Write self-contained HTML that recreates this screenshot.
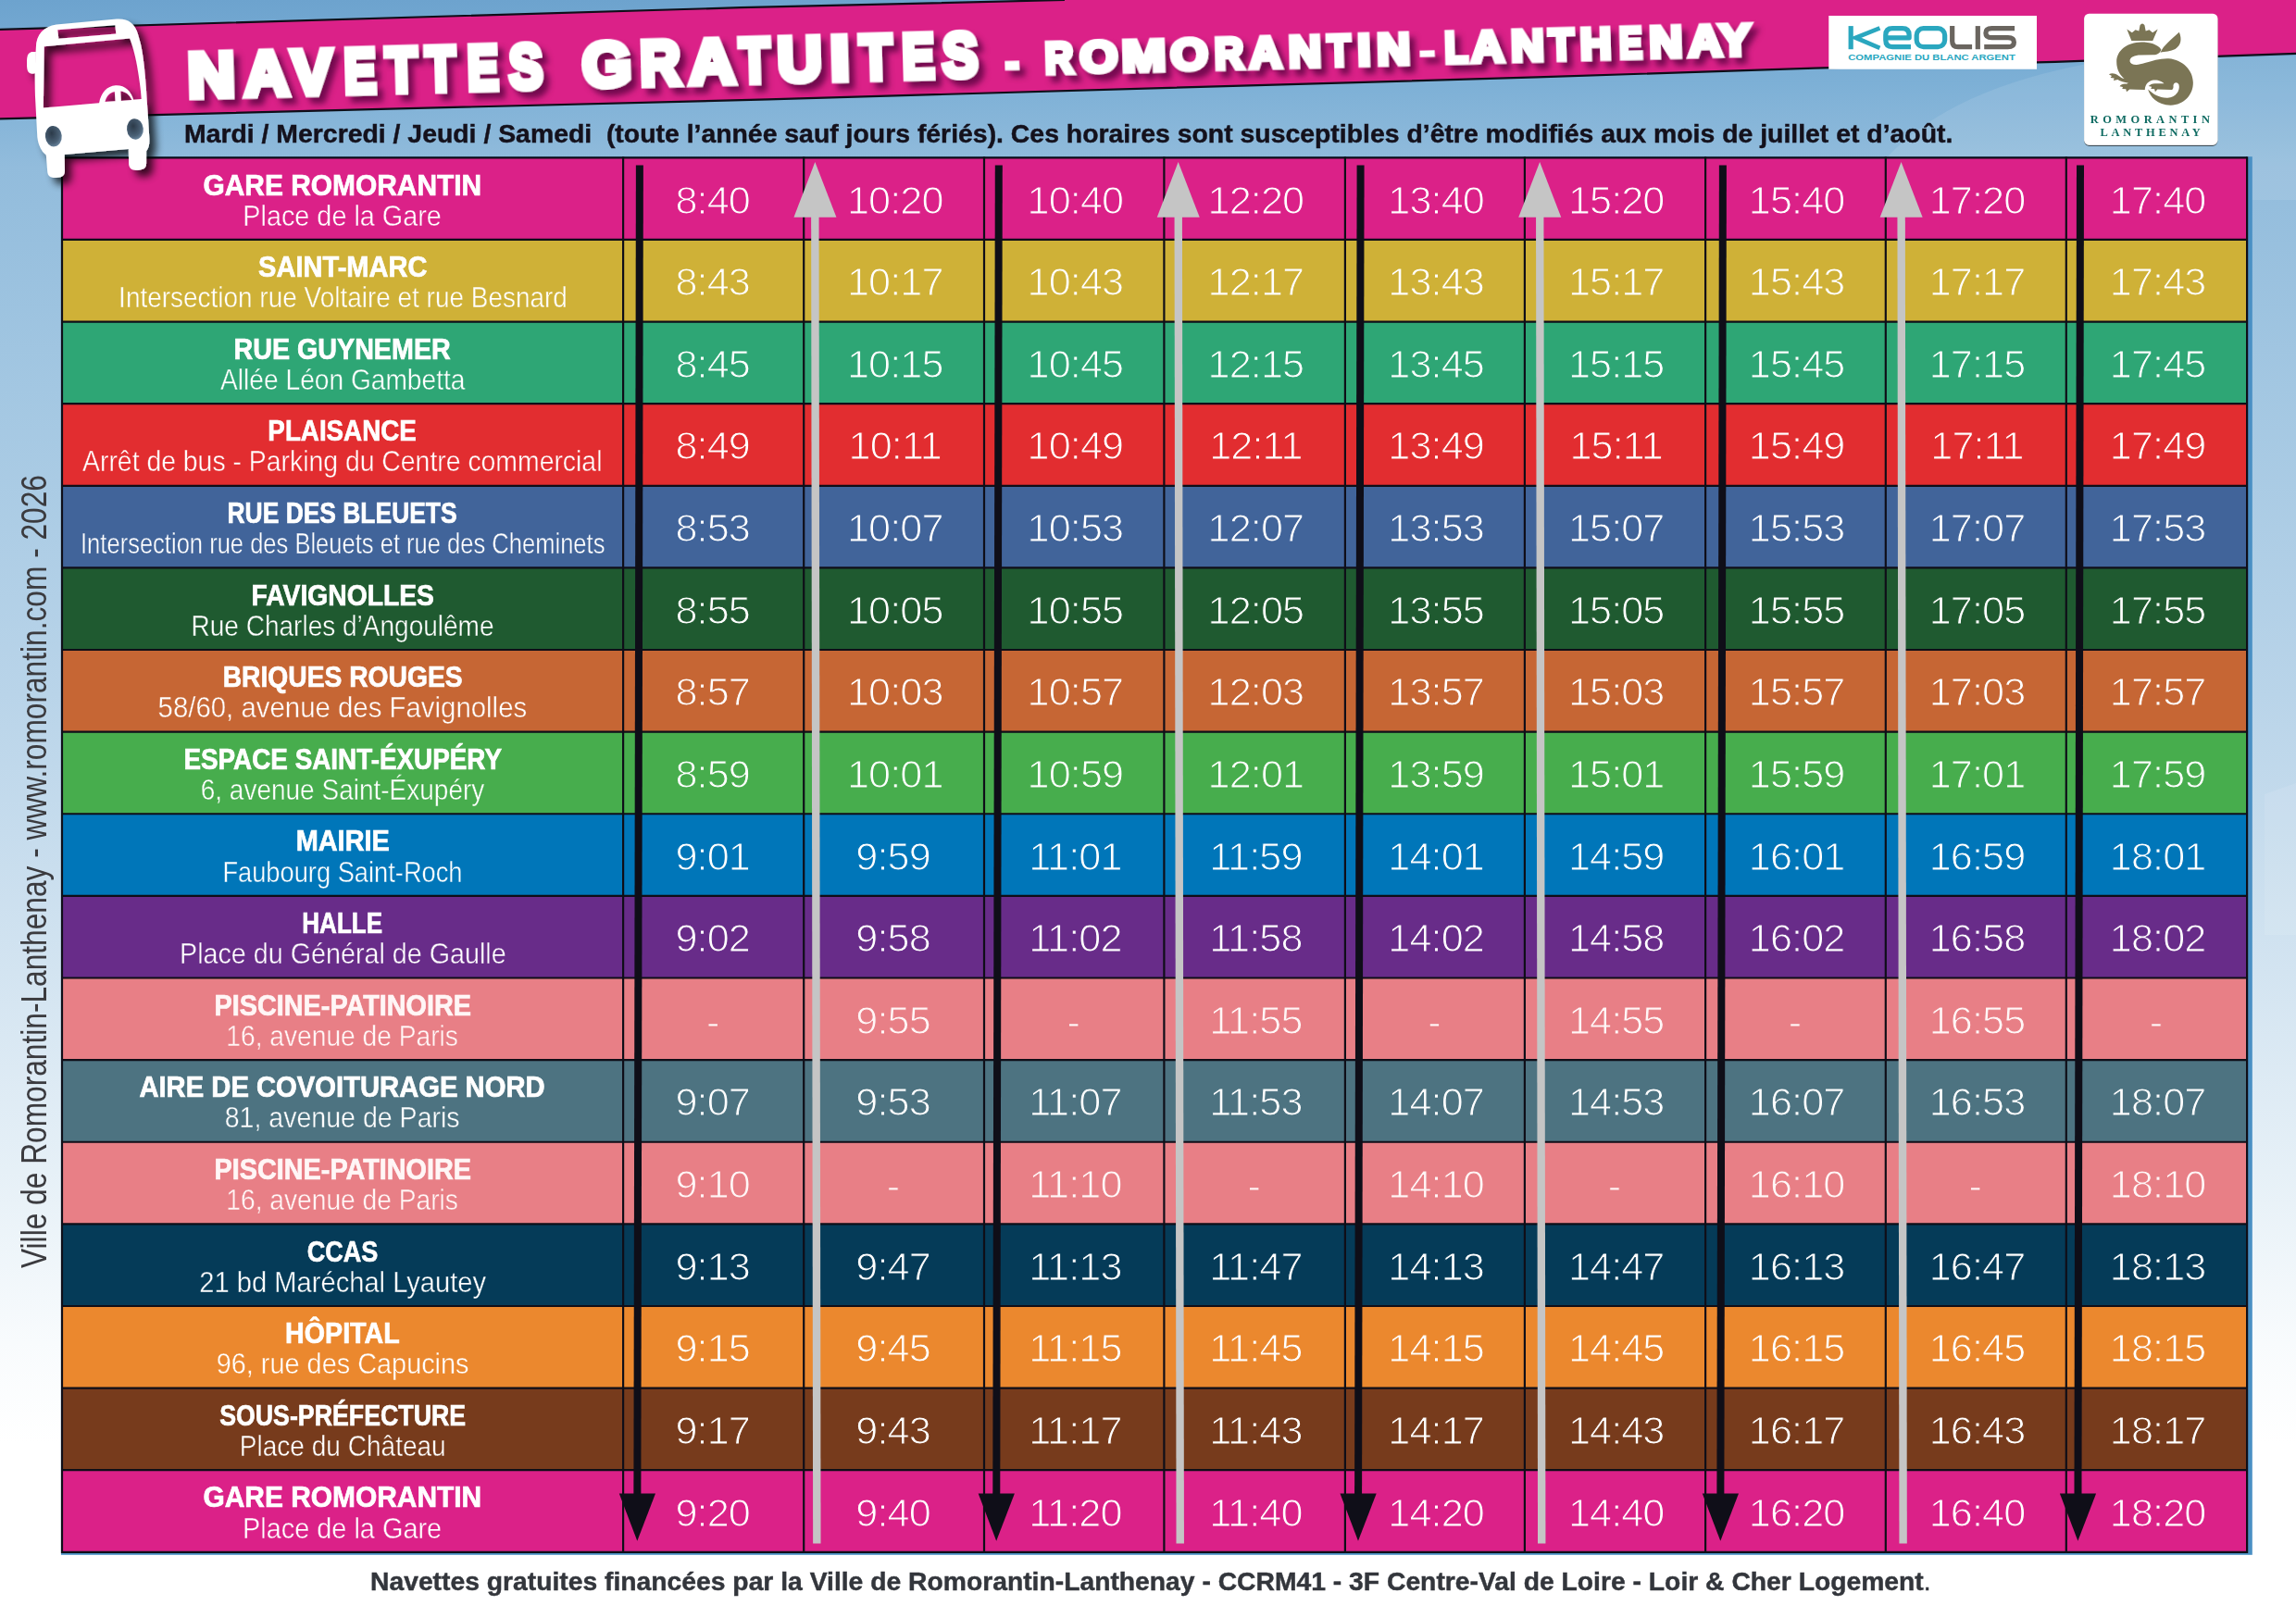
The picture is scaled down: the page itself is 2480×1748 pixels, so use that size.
<!DOCTYPE html><html><head><meta charset="utf-8"><title>Navettes gratuites - Romorantin-Lanthenay</title>
<style>
html,body{margin:0;padding:0}
body{width:2480px;height:1748px;overflow:hidden;position:relative;font-family:"Liberation Sans",sans-serif;
background:linear-gradient(180deg,#6da3ce 0px,#7db0d6 90px,#92bcdc 180px,#a3c7e2 420px,#b9d4e9 750px,#d3e4f1 1050px,#e9f2f8 1300px,#f8fbfd 1450px,#ffffff 1560px);}
.abs{position:absolute}
.t{position:absolute;white-space:nowrap;line-height:1;color:#fff;text-align:center}
.t span{display:inline-block;transform-origin:50% 50%}
.n{font-weight:bold;font-size:31.0px;left:-133px;width:1006px;-webkit-text-stroke:0.7px currentColor}
.a{font-size:30.5px;left:-133px;width:1006px;-webkit-text-stroke:0.4px var(--c)}
.h{font-size:43.2px;width:195px;letter-spacing:-0.9px;-webkit-text-stroke:1.1px var(--c)}
.pk{color:#fff6f6}

</style></head><body>
<svg class="abs" style="left:0;top:0" width="2480" height="1748" viewBox="0 0 2480 1748">
<defs><filter id="ds" x="-20%" y="-20%" width="150%" height="150%"><feGaussianBlur in="SourceAlpha" stdDeviation="4"/><feOffset dx="7" dy="7"/><feComponentTransfer><feFuncA type="linear" slope="0.7"/></feComponentTransfer><feMerge><feMergeNode/><feMergeNode in="SourceGraphic"/></feMerge></filter>
<filter id="ts" x="-5%" y="-30%" width="110%" height="170%"><feGaussianBlur in="SourceAlpha" stdDeviation="2.5"/><feOffset dx="5" dy="6"/><feFlood flood-color="#4a0838" flood-opacity="0.85"/><feComposite operator="in" in2="SourceAlpha"/><feMerge><feMergeNode/><feMergeNode in="SourceGraphic"/></feMerge></filter>
</defs>
<path d="M2040,168 Q2110,95 2260,68 L2480,60 L2480,216 L2040,216 Z" fill="#ffffff" opacity="0.10"/><path d="M2446,858 L2480,846 L2480,1010 L2446,1010 Z" fill="#ffffff" opacity="0.10"/>
<polygon points="0,31.8 800,8.2 1150,0 2480,0 2480,57.9 2220,66.8 1960,73.6 1660,83.4 830,107.4 0,128.3" fill="#DB2188"/>
<polyline points="0,31.8 800,8.2 1150,0" fill="none" stroke="#0f0e18" stroke-width="2.2"/>
<polyline points="0,128.3 830,107.4 1660,83.4 1960,73.6 2220,66.8 2480,57.9" fill="none" stroke="#0f0e18" stroke-width="2.2"/>
<rect x="65.9" y="169.2" width="2366.9" height="1510.6" fill="#4a90c4"/>
<rect x="67.0" y="170.30" width="2360.1" height="89.12" fill="#DB2188"/>
<rect x="67.0" y="258.92" width="2360.1" height="89.12" fill="#CFB137"/>
<rect x="67.0" y="347.54" width="2360.1" height="89.12" fill="#2EA675"/>
<rect x="67.0" y="436.16" width="2360.1" height="89.12" fill="#E22D30"/>
<rect x="67.0" y="524.78" width="2360.1" height="89.12" fill="#41649A"/>
<rect x="67.0" y="613.40" width="2360.1" height="89.12" fill="#1F5A30"/>
<rect x="67.0" y="702.02" width="2360.1" height="89.12" fill="#C66634"/>
<rect x="67.0" y="790.64" width="2360.1" height="89.12" fill="#47AD4D"/>
<rect x="67.0" y="879.26" width="2360.1" height="89.12" fill="#0076B9"/>
<rect x="67.0" y="967.88" width="2360.1" height="89.12" fill="#682C89"/>
<rect x="67.0" y="1056.50" width="2360.1" height="89.12" fill="#E87F86"/>
<rect x="67.0" y="1145.12" width="2360.1" height="89.12" fill="#4D7381"/>
<rect x="67.0" y="1233.74" width="2360.1" height="89.12" fill="#E87F86"/>
<rect x="67.0" y="1322.36" width="2360.1" height="89.12" fill="#053B58"/>
<rect x="67.0" y="1410.98" width="2360.1" height="89.12" fill="#EB882E"/>
<rect x="67.0" y="1499.60" width="2360.1" height="89.12" fill="#773B1C"/>
<rect x="67.0" y="1588.22" width="2360.1" height="89.12" fill="#DB2188"/>
<line x1="67.0" y1="170.30" x2="2427.1" y2="170.30" stroke="#0f0e18" stroke-width="2.2"/>
<line x1="67.0" y1="258.92" x2="2427.1" y2="258.92" stroke="#0f0e18" stroke-width="2.2"/>
<line x1="67.0" y1="347.54" x2="2427.1" y2="347.54" stroke="#0f0e18" stroke-width="2.2"/>
<line x1="67.0" y1="436.16" x2="2427.1" y2="436.16" stroke="#0f0e18" stroke-width="2.2"/>
<line x1="67.0" y1="524.78" x2="2427.1" y2="524.78" stroke="#0f0e18" stroke-width="2.2"/>
<line x1="67.0" y1="613.40" x2="2427.1" y2="613.40" stroke="#0f0e18" stroke-width="2.2"/>
<line x1="67.0" y1="702.02" x2="2427.1" y2="702.02" stroke="#0f0e18" stroke-width="2.2"/>
<line x1="67.0" y1="790.64" x2="2427.1" y2="790.64" stroke="#0f0e18" stroke-width="2.2"/>
<line x1="67.0" y1="879.26" x2="2427.1" y2="879.26" stroke="#0f0e18" stroke-width="2.2"/>
<line x1="67.0" y1="967.88" x2="2427.1" y2="967.88" stroke="#0f0e18" stroke-width="2.2"/>
<line x1="67.0" y1="1056.50" x2="2427.1" y2="1056.50" stroke="#0f0e18" stroke-width="2.2"/>
<line x1="67.0" y1="1145.12" x2="2427.1" y2="1145.12" stroke="#0f0e18" stroke-width="2.2"/>
<line x1="67.0" y1="1233.74" x2="2427.1" y2="1233.74" stroke="#0f0e18" stroke-width="2.2"/>
<line x1="67.0" y1="1322.36" x2="2427.1" y2="1322.36" stroke="#0f0e18" stroke-width="2.2"/>
<line x1="67.0" y1="1410.98" x2="2427.1" y2="1410.98" stroke="#0f0e18" stroke-width="2.2"/>
<line x1="67.0" y1="1499.60" x2="2427.1" y2="1499.60" stroke="#0f0e18" stroke-width="2.2"/>
<line x1="67.0" y1="1588.22" x2="2427.1" y2="1588.22" stroke="#0f0e18" stroke-width="2.2"/>
<line x1="67.0" y1="1676.84" x2="2427.1" y2="1676.84" stroke="#0f0e18" stroke-width="2.2"/>
<line x1="67.0" y1="169.20" x2="67.0" y2="1677.94" stroke="#0f0e18" stroke-width="2.2"/>
<line x1="673.1" y1="169.20" x2="673.1" y2="1677.94" stroke="#0f0e18" stroke-width="2.2"/>
<line x1="868.2" y1="169.20" x2="868.2" y2="1677.94" stroke="#0f0e18" stroke-width="2.2"/>
<line x1="1063.0" y1="169.20" x2="1063.0" y2="1677.94" stroke="#0f0e18" stroke-width="2.2"/>
<line x1="1257.4" y1="169.20" x2="1257.4" y2="1677.94" stroke="#0f0e18" stroke-width="2.2"/>
<line x1="1452.9" y1="169.20" x2="1452.9" y2="1677.94" stroke="#0f0e18" stroke-width="2.2"/>
<line x1="1646.9" y1="169.20" x2="1646.9" y2="1677.94" stroke="#0f0e18" stroke-width="2.2"/>
<line x1="1842.1" y1="169.20" x2="1842.1" y2="1677.94" stroke="#0f0e18" stroke-width="2.2"/>
<line x1="2036.8" y1="169.20" x2="2036.8" y2="1677.94" stroke="#0f0e18" stroke-width="2.2"/>
<line x1="2231.8" y1="169.20" x2="2231.8" y2="1677.94" stroke="#0f0e18" stroke-width="2.2"/>
<line x1="2427.1" y1="169.20" x2="2427.1" y2="1677.94" stroke="#0f0e18" stroke-width="2.2"/>
<g transform="rotate(0.1 689.6 921)"><rect x="685.6" y="178.5" width="8" height="1437" fill="#0f0e18"/><polygon points="670.0,1613.5 709.2,1613.5 689.6,1664.8" fill="#0f0e18"/></g>
<g transform="rotate(0.1 1077.5 921)"><rect x="1073.5" y="178.5" width="8" height="1437" fill="#0f0e18"/><polygon points="1057.9,1613.5 1097.1,1613.5 1077.5,1664.8" fill="#0f0e18"/></g>
<g transform="rotate(0.1 1468.3 921)"><rect x="1464.3" y="178.5" width="8" height="1437" fill="#0f0e18"/><polygon points="1448.7,1613.5 1487.9,1613.5 1468.3,1664.8" fill="#0f0e18"/></g>
<g transform="rotate(0.1 1859.6 921)"><rect x="1855.6" y="178.5" width="8" height="1437" fill="#0f0e18"/><polygon points="1840.0,1613.5 1879.2,1613.5 1859.6,1664.8" fill="#0f0e18"/></g>
<g transform="rotate(0.1 2245.7 921)"><rect x="2241.7" y="178.5" width="8" height="1437" fill="#0f0e18"/><polygon points="2226.1,1613.5 2265.3,1613.5 2245.7,1664.8" fill="#0f0e18"/></g>
<g transform="rotate(-0.08 881.4 921)"><rect x="877.1" y="233" width="8.4" height="1434.6" fill="#c5c5c5"/><polygon points="858.4,234.8 904.4,234.8 881.4,175" fill="#c5c5c5"/></g>
<g transform="rotate(-0.08 1273.7 921)"><rect x="1269.5" y="233" width="8.4" height="1434.6" fill="#c5c5c5"/><polygon points="1250.7,234.8 1296.7,234.8 1273.7,175" fill="#c5c5c5"/></g>
<g transform="rotate(-0.08 1664.2 921)"><rect x="1660.0" y="233" width="8.4" height="1434.6" fill="#c5c5c5"/><polygon points="1641.2,234.8 1687.2,234.8 1664.2,175" fill="#c5c5c5"/></g>
<g transform="rotate(-0.08 2054.6 921)"><rect x="2050.4" y="233" width="8.4" height="1434.6" fill="#c5c5c5"/><polygon points="2031.6,234.8 2077.6,234.8 2054.6,175" fill="#c5c5c5"/></g>
</svg>
<div class="abs" style="left:0;top:0;width:2480px;height:1748px;will-change:transform">
<div style="--c:#DB2188">
<div class="t n" style="top:184.5px"><span id="n0" style="transform:scaleX(0.9647)">GARE ROMORANTIN</span></div>
<div class="t a" style="top:217.6px"><span id="a0" style="transform:scaleX(0.9445)">Place de la Gare</span></div>
<div class="t h" style="left:672.2px;top:194.5px">8:40</div>
<div class="t h" style="left:869.3px;top:194.5px">10:20</div>
<div class="t h" style="left:1063.9px;top:194.5px">10:40</div>
<div class="t h" style="left:1258.9px;top:194.5px">12:20</div>
<div class="t h" style="left:1453.6px;top:194.5px">13:40</div>
<div class="t h" style="left:1648.2px;top:194.5px">15:20</div>
<div class="t h" style="left:1843.1px;top:194.5px">15:40</div>
<div class="t h" style="left:2038.0px;top:194.5px">17:20</div>
<div class="t h" style="left:2233.1px;top:194.5px">17:40</div>
</div>
<div style="--c:#CFB137">
<div class="t n" style="top:273.1px"><span id="n1" style="transform:scaleX(0.9379)">SAINT-MARC</span></div>
<div class="t a" style="top:306.2px"><span id="a1" style="transform:scaleX(0.9164)">Intersection rue Voltaire et rue Besnard</span></div>
<div class="t h" style="left:672.2px;top:283.2px">8:43</div>
<div class="t h" style="left:869.3px;top:283.2px">10:17</div>
<div class="t h" style="left:1063.9px;top:283.2px">10:43</div>
<div class="t h" style="left:1258.9px;top:283.2px">12:17</div>
<div class="t h" style="left:1453.6px;top:283.2px">13:43</div>
<div class="t h" style="left:1648.2px;top:283.2px">15:17</div>
<div class="t h" style="left:1843.1px;top:283.2px">15:43</div>
<div class="t h" style="left:2038.0px;top:283.2px">17:17</div>
<div class="t h" style="left:2233.1px;top:283.2px">17:43</div>
</div>
<div style="--c:#2EA675">
<div class="t n" style="top:361.7px"><span id="n2" style="transform:scaleX(0.9253)">RUE GUYNEMER</span></div>
<div class="t a" style="top:394.8px"><span id="a2" style="transform:scaleX(0.9226)">Allée Léon Gambetta</span></div>
<div class="t h" style="left:672.2px;top:371.8px">8:45</div>
<div class="t h" style="left:869.3px;top:371.8px">10:15</div>
<div class="t h" style="left:1063.9px;top:371.8px">10:45</div>
<div class="t h" style="left:1258.9px;top:371.8px">12:15</div>
<div class="t h" style="left:1453.6px;top:371.8px">13:45</div>
<div class="t h" style="left:1648.2px;top:371.8px">15:15</div>
<div class="t h" style="left:1843.1px;top:371.8px">15:45</div>
<div class="t h" style="left:2038.0px;top:371.8px">17:15</div>
<div class="t h" style="left:2233.1px;top:371.8px">17:45</div>
</div>
<div style="--c:#E22D30">
<div class="t n" style="top:450.3px"><span id="n3" style="transform:scaleX(0.8955)">PLAISANCE</span></div>
<div class="t a" style="top:483.4px"><span id="a3" style="transform:scaleX(0.9303)">Arrêt de bus - Parking du Centre commercial</span></div>
<div class="t h" style="left:672.2px;top:460.4px">8:49</div>
<div class="t h" style="left:869.3px;top:460.4px">10:11</div>
<div class="t h" style="left:1063.9px;top:460.4px">10:49</div>
<div class="t h" style="left:1258.9px;top:460.4px">12:11</div>
<div class="t h" style="left:1453.6px;top:460.4px">13:49</div>
<div class="t h" style="left:1648.2px;top:460.4px">15:11</div>
<div class="t h" style="left:1843.1px;top:460.4px">15:49</div>
<div class="t h" style="left:2038.0px;top:460.4px">17:11</div>
<div class="t h" style="left:2233.1px;top:460.4px">17:49</div>
</div>
<div style="--c:#41649A">
<div class="t n" style="top:538.9px"><span id="n4" style="transform:scaleX(0.8522)">RUE DES BLEUETS</span></div>
<div class="t a" style="top:572.1px"><span id="a4" style="transform:scaleX(0.8373)">Intersection rue des Bleuets et rue des Cheminets</span></div>
<div class="t h" style="left:672.2px;top:549.0px">8:53</div>
<div class="t h" style="left:869.3px;top:549.0px">10:07</div>
<div class="t h" style="left:1063.9px;top:549.0px">10:53</div>
<div class="t h" style="left:1258.9px;top:549.0px">12:07</div>
<div class="t h" style="left:1453.6px;top:549.0px">13:53</div>
<div class="t h" style="left:1648.2px;top:549.0px">15:07</div>
<div class="t h" style="left:1843.1px;top:549.0px">15:53</div>
<div class="t h" style="left:2038.0px;top:549.0px">17:07</div>
<div class="t h" style="left:2233.1px;top:549.0px">17:53</div>
</div>
<div style="--c:#1F5A30">
<div class="t n" style="top:627.6px"><span id="n5" style="transform:scaleX(0.9120)">FAVIGNOLLES</span></div>
<div class="t a" style="top:660.7px"><span id="a5" style="transform:scaleX(0.9185)">Rue Charles d’Angoulême</span></div>
<div class="t h" style="left:672.2px;top:637.6px">8:55</div>
<div class="t h" style="left:869.3px;top:637.6px">10:05</div>
<div class="t h" style="left:1063.9px;top:637.6px">10:55</div>
<div class="t h" style="left:1258.9px;top:637.6px">12:05</div>
<div class="t h" style="left:1453.6px;top:637.6px">13:55</div>
<div class="t h" style="left:1648.2px;top:637.6px">15:05</div>
<div class="t h" style="left:1843.1px;top:637.6px">15:55</div>
<div class="t h" style="left:2038.0px;top:637.6px">17:05</div>
<div class="t h" style="left:2233.1px;top:637.6px">17:55</div>
</div>
<div style="--c:#C66634">
<div class="t n" style="top:716.2px"><span id="n6" style="transform:scaleX(0.9109)">BRIQUES ROUGES</span></div>
<div class="t a" style="top:749.3px"><span id="a6" style="transform:scaleX(0.9635)">58/60, avenue des Favignolles</span></div>
<div class="t h" style="left:672.2px;top:726.3px">8:57</div>
<div class="t h" style="left:869.3px;top:726.3px">10:03</div>
<div class="t h" style="left:1063.9px;top:726.3px">10:57</div>
<div class="t h" style="left:1258.9px;top:726.3px">12:03</div>
<div class="t h" style="left:1453.6px;top:726.3px">13:57</div>
<div class="t h" style="left:1648.2px;top:726.3px">15:03</div>
<div class="t h" style="left:1843.1px;top:726.3px">15:57</div>
<div class="t h" style="left:2038.0px;top:726.3px">17:03</div>
<div class="t h" style="left:2233.1px;top:726.3px">17:57</div>
</div>
<div style="--c:#47AD4D">
<div class="t n" style="top:804.8px"><span id="n7" style="transform:scaleX(0.8982)">ESPACE SAINT-ÉXUPÉRY</span></div>
<div class="t a" style="top:837.9px"><span id="a7" style="transform:scaleX(0.9180)">6, avenue Saint-Éxupéry</span></div>
<div class="t h" style="left:672.2px;top:814.9px">8:59</div>
<div class="t h" style="left:869.3px;top:814.9px">10:01</div>
<div class="t h" style="left:1063.9px;top:814.9px">10:59</div>
<div class="t h" style="left:1258.9px;top:814.9px">12:01</div>
<div class="t h" style="left:1453.6px;top:814.9px">13:59</div>
<div class="t h" style="left:1648.2px;top:814.9px">15:01</div>
<div class="t h" style="left:1843.1px;top:814.9px">15:59</div>
<div class="t h" style="left:2038.0px;top:814.9px">17:01</div>
<div class="t h" style="left:2233.1px;top:814.9px">17:59</div>
</div>
<div style="--c:#0076B9">
<div class="t n" style="top:893.4px"><span id="n8" style="transform:scaleX(0.9330)">MAIRIE</span></div>
<div class="t a" style="top:926.5px"><span id="a8" style="transform:scaleX(0.8938)">Faubourg Saint-Roch</span></div>
<div class="t h" style="left:672.2px;top:903.5px">9:01</div>
<div class="t h" style="left:867.1px;top:903.5px">9:59</div>
<div class="t h" style="left:1063.9px;top:903.5px">11:01</div>
<div class="t h" style="left:1258.9px;top:903.5px">11:59</div>
<div class="t h" style="left:1453.6px;top:903.5px">14:01</div>
<div class="t h" style="left:1648.2px;top:903.5px">14:59</div>
<div class="t h" style="left:1843.1px;top:903.5px">16:01</div>
<div class="t h" style="left:2038.0px;top:903.5px">16:59</div>
<div class="t h" style="left:2233.1px;top:903.5px">18:01</div>
</div>
<div style="--c:#682C89">
<div class="t n" style="top:982.0px"><span id="n9" style="transform:scaleX(0.8388)">HALLE</span></div>
<div class="t a" style="top:1015.2px"><span id="a9" style="transform:scaleX(0.9411)">Place du Général de Gaulle</span></div>
<div class="t h" style="left:672.2px;top:992.1px">9:02</div>
<div class="t h" style="left:867.1px;top:992.1px">9:58</div>
<div class="t h" style="left:1063.9px;top:992.1px">11:02</div>
<div class="t h" style="left:1258.9px;top:992.1px">11:58</div>
<div class="t h" style="left:1453.6px;top:992.1px">14:02</div>
<div class="t h" style="left:1648.2px;top:992.1px">14:58</div>
<div class="t h" style="left:1843.1px;top:992.1px">16:02</div>
<div class="t h" style="left:2038.0px;top:992.1px">16:58</div>
<div class="t h" style="left:2233.1px;top:992.1px">18:02</div>
</div>
<div style="--c:#E87F86">
<div class="t n pk" style="top:1070.7px"><span id="n10" style="transform:scaleX(0.9294)">PISCINE-PATINOIRE</span></div>
<div class="t a pk" style="top:1103.8px"><span id="a10" style="transform:scaleX(0.9236)">16, avenue de Paris</span></div>
<div class="t h pk" style="left:672.2px;top:1082.7px">-</div>
<div class="t h pk" style="left:867.1px;top:1080.7px">9:55</div>
<div class="t h pk" style="left:1061.7px;top:1082.7px">-</div>
<div class="t h pk" style="left:1258.9px;top:1080.7px">11:55</div>
<div class="t h pk" style="left:1451.4px;top:1082.7px">-</div>
<div class="t h pk" style="left:1648.2px;top:1080.7px">14:55</div>
<div class="t h pk" style="left:1840.9px;top:1082.7px">-</div>
<div class="t h pk" style="left:2038.0px;top:1080.7px">16:55</div>
<div class="t h pk" style="left:2230.9px;top:1082.7px">-</div>
</div>
<div style="--c:#4D7381">
<div class="t n" style="top:1159.3px"><span id="n11" style="transform:scaleX(0.9424)">AIRE DE COVOITURAGE NORD</span></div>
<div class="t a" style="top:1192.4px"><span id="a11" style="transform:scaleX(0.9362)">81, avenue de Paris</span></div>
<div class="t h" style="left:672.2px;top:1169.4px">9:07</div>
<div class="t h" style="left:867.1px;top:1169.4px">9:53</div>
<div class="t h" style="left:1063.9px;top:1169.4px">11:07</div>
<div class="t h" style="left:1258.9px;top:1169.4px">11:53</div>
<div class="t h" style="left:1453.6px;top:1169.4px">14:07</div>
<div class="t h" style="left:1648.2px;top:1169.4px">14:53</div>
<div class="t h" style="left:1843.1px;top:1169.4px">16:07</div>
<div class="t h" style="left:2038.0px;top:1169.4px">16:53</div>
<div class="t h" style="left:2233.1px;top:1169.4px">18:07</div>
</div>
<div style="--c:#E87F86">
<div class="t n pk" style="top:1247.9px"><span id="n12" style="transform:scaleX(0.9294)">PISCINE-PATINOIRE</span></div>
<div class="t a pk" style="top:1281.0px"><span id="a12" style="transform:scaleX(0.9236)">16, avenue de Paris</span></div>
<div class="t h pk" style="left:672.2px;top:1258.0px">9:10</div>
<div class="t h pk" style="left:867.1px;top:1260.0px">-</div>
<div class="t h pk" style="left:1063.9px;top:1258.0px">11:10</div>
<div class="t h pk" style="left:1256.7px;top:1260.0px">-</div>
<div class="t h pk" style="left:1453.6px;top:1258.0px">14:10</div>
<div class="t h pk" style="left:1646.0px;top:1260.0px">-</div>
<div class="t h pk" style="left:1843.1px;top:1258.0px">16:10</div>
<div class="t h pk" style="left:2035.8px;top:1260.0px">-</div>
<div class="t h pk" style="left:2233.1px;top:1258.0px">18:10</div>
</div>
<div style="--c:#053B58">
<div class="t n" style="top:1336.5px"><span id="n13" style="transform:scaleX(0.8716)">CCAS</span></div>
<div class="t a" style="top:1369.6px"><span id="a13" style="transform:scaleX(0.9549)">21 bd Maréchal Lyautey</span></div>
<div class="t h" style="left:672.2px;top:1346.6px">9:13</div>
<div class="t h" style="left:867.1px;top:1346.6px">9:47</div>
<div class="t h" style="left:1063.9px;top:1346.6px">11:13</div>
<div class="t h" style="left:1258.9px;top:1346.6px">11:47</div>
<div class="t h" style="left:1453.6px;top:1346.6px">14:13</div>
<div class="t h" style="left:1648.2px;top:1346.6px">14:47</div>
<div class="t h" style="left:1843.1px;top:1346.6px">16:13</div>
<div class="t h" style="left:2038.0px;top:1346.6px">16:47</div>
<div class="t h" style="left:2233.1px;top:1346.6px">18:13</div>
</div>
<div style="--c:#EB882E">
<div class="t n" style="top:1425.1px"><span id="n14" style="transform:scaleX(0.9239)">HÔPITAL</span></div>
<div class="t a" style="top:1458.3px"><span id="a14" style="transform:scaleX(0.9465)">96, rue des Capucins</span></div>
<div class="t h" style="left:672.2px;top:1435.2px">9:15</div>
<div class="t h" style="left:867.1px;top:1435.2px">9:45</div>
<div class="t h" style="left:1063.9px;top:1435.2px">11:15</div>
<div class="t h" style="left:1258.9px;top:1435.2px">11:45</div>
<div class="t h" style="left:1453.6px;top:1435.2px">14:15</div>
<div class="t h" style="left:1648.2px;top:1435.2px">14:45</div>
<div class="t h" style="left:1843.1px;top:1435.2px">16:15</div>
<div class="t h" style="left:2038.0px;top:1435.2px">16:45</div>
<div class="t h" style="left:2233.1px;top:1435.2px">18:15</div>
</div>
<div style="--c:#773B1C">
<div class="t n" style="top:1513.8px"><span id="n15" style="transform:scaleX(0.8627)">SOUS-PRÉFECTURE</span></div>
<div class="t a" style="top:1546.9px"><span id="a15" style="transform:scaleX(0.9194)">Place du Château</span></div>
<div class="t h" style="left:672.2px;top:1523.8px">9:17</div>
<div class="t h" style="left:867.1px;top:1523.8px">9:43</div>
<div class="t h" style="left:1063.9px;top:1523.8px">11:17</div>
<div class="t h" style="left:1258.9px;top:1523.8px">11:43</div>
<div class="t h" style="left:1453.6px;top:1523.8px">14:17</div>
<div class="t h" style="left:1648.2px;top:1523.8px">14:43</div>
<div class="t h" style="left:1843.1px;top:1523.8px">16:17</div>
<div class="t h" style="left:2038.0px;top:1523.8px">16:43</div>
<div class="t h" style="left:2233.1px;top:1523.8px">18:17</div>
</div>
<div style="--c:#DB2188">
<div class="t n" style="top:1602.4px"><span id="n16" style="transform:scaleX(0.9647)">GARE ROMORANTIN</span></div>
<div class="t a" style="top:1635.5px"><span id="a16" style="transform:scaleX(0.9471)">Place de la Gare</span></div>
<div class="t h" style="left:672.2px;top:1612.5px">9:20</div>
<div class="t h" style="left:867.1px;top:1612.5px">9:40</div>
<div class="t h" style="left:1063.9px;top:1612.5px">11:20</div>
<div class="t h" style="left:1258.9px;top:1612.5px">11:40</div>
<div class="t h" style="left:1453.6px;top:1612.5px">14:20</div>
<div class="t h" style="left:1648.2px;top:1612.5px">14:40</div>
<div class="t h" style="left:1843.1px;top:1612.5px">16:20</div>
<div class="t h" style="left:2038.0px;top:1612.5px">16:40</div>
<div class="t h" style="left:2233.1px;top:1612.5px">18:20</div>
</div>
</div>
<svg class="abs" style="left:0;top:0" width="2480" height="180" viewBox="0 0 2480 180">
<defs><filter id="tsh" filterUnits="userSpaceOnUse" x="0" y="-80" width="2480" height="400"><feGaussianBlur in="SourceAlpha" stdDeviation="3"/><feOffset dx="6" dy="6.5" result="o"/><feFlood flood-color="#4a0838" flood-opacity="0.72"/><feComposite operator="in" in2="o"/><feMerge><feMergeNode/><feMergeNode in="SourceGraphic"/></feMerge></filter></defs>
<g transform="rotate(-1.52 203.5 108.2)" filter="url(#tsh)" fill="#fff" stroke="#fff" stroke-linejoin="miter" stroke-miterlimit="3" font-family="Liberation Sans, sans-serif" font-weight="bold">
<text transform="translate(203.2,104.7) scale(1.028,1)" font-size="69.0" stroke-width="7.0">N</text>
<text transform="translate(264.6,104.7) scale(0.970,1)" font-size="69.0" stroke-width="7.0">A</text>
<text transform="translate(315.5,104.7) scale(0.956,1)" font-size="69.0" stroke-width="7.0">V</text>
<text transform="translate(372.2,104.7) scale(0.755,1)" font-size="69.0" stroke-width="7.0">E</text>
<text transform="translate(417.3,104.7) scale(0.806,1)" font-size="69.0" stroke-width="7.0">T</text>
<text transform="translate(460.4,104.7) scale(0.764,1)" font-size="69.0" stroke-width="7.0">T</text>
<text transform="translate(505.4,104.7) scale(0.733,1)" font-size="69.0" stroke-width="7.0">E</text>
<text transform="translate(550.5,104.7) scale(0.792,1)" font-size="69.0" stroke-width="7.0">S</text>
<text transform="translate(629.5,104.7) scale(0.995,1)" font-size="69.0" stroke-width="7.0">G</text>
<text transform="translate(692.0,104.7) scale(0.880,1)" font-size="69.0" stroke-width="7.0">R</text>
<text transform="translate(744.9,104.7) scale(1.002,1)" font-size="69.0" stroke-width="7.0">A</text>
<text transform="translate(799.6,104.7) scale(0.779,1)" font-size="69.0" stroke-width="7.0">T</text>
<text transform="translate(840.5,104.7) scale(0.965,1)" font-size="69.0" stroke-width="7.0">U</text>
<text transform="translate(897.6,104.7) scale(1.092,1)" font-size="69.0" stroke-width="7.0">I</text>
<text transform="translate(929.4,104.7) scale(0.823,1)" font-size="69.0" stroke-width="7.0">T</text>
<text transform="translate(975.3,104.7) scale(0.763,1)" font-size="69.0" stroke-width="7.0">E</text>
<text transform="translate(1018.8,104.7) scale(0.834,1)" font-size="69.0" stroke-width="7.0">S</text>
<text transform="translate(1129.3,103.6) scale(0.894,1)" font-size="48.0" stroke-width="5.2">R</text>
<text transform="translate(1167.2,103.6) scale(1.097,1)" font-size="48.0" stroke-width="5.2">O</text>
<text transform="translate(1212.4,103.6) scale(1.189,1)" font-size="48.0" stroke-width="5.2">M</text>
<text transform="translate(1265.2,103.6) scale(1.084,1)" font-size="48.0" stroke-width="5.2">O</text>
<text transform="translate(1312.7,103.6) scale(0.906,1)" font-size="48.0" stroke-width="5.2">R</text>
<text transform="translate(1350.4,103.6) scale(1.003,1)" font-size="48.0" stroke-width="5.2">A</text>
<text transform="translate(1392.8,103.6) scale(1.014,1)" font-size="48.0" stroke-width="5.2">N</text>
<text transform="translate(1434.7,103.6) scale(0.849,1)" font-size="48.0" stroke-width="5.2">T</text>
<text transform="translate(1467.2,103.6) scale(1.048,1)" font-size="48.0" stroke-width="5.2">I</text>
<text transform="translate(1488.3,103.6) scale(1.032,1)" font-size="48.0" stroke-width="5.2">N</text>
<text transform="translate(1561.2,103.6) scale(0.868,1)" font-size="48.0" stroke-width="5.2">L</text>
<text transform="translate(1590.1,103.6) scale(1.024,1)" font-size="48.0" stroke-width="5.2">A</text>
<text transform="translate(1633.0,103.6) scale(1.032,1)" font-size="48.0" stroke-width="5.2">N</text>
<text transform="translate(1673.9,103.6) scale(0.917,1)" font-size="48.0" stroke-width="5.2">T</text>
<text transform="translate(1707.8,103.6) scale(0.976,1)" font-size="48.0" stroke-width="5.2">H</text>
<text transform="translate(1750.1,103.6) scale(0.775,1)" font-size="48.0" stroke-width="5.2">E</text>
<text transform="translate(1782.5,103.6) scale(1.032,1)" font-size="48.0" stroke-width="5.2">N</text>
<text transform="translate(1824.8,103.6) scale(1.051,1)" font-size="48.0" stroke-width="5.2">A</text>
<text transform="translate(1857.9,103.6) scale(1.075,1)" font-size="48.0" stroke-width="5.2">Y</text>
<rect x="1086.1" y="89.3" width="15.7" height="10.3" stroke="none"/>
<rect x="1534.4" y="89.9" width="16.2" height="7.2" stroke="none"/>
</g></svg>
<div class="abs" id="subw" style="left:199.3px;top:130.0px;white-space:nowrap;line-height:1;font-size:28.3px;font-weight:bold;color:#14111c;-webkit-text-stroke:0.45px #14111c"><span id="sub" style="display:inline-block;transform-origin:0 50%;transform:scaleX(1.0032)">Mardi / Mercredi / Jeudi / Samedi&nbsp; (toute l’année sauf jours fériés). Ces horaires sont susceptibles d’être modifiés aux mois de juillet et d’août.</span></div>

<svg class="abs" style="left:0;top:0" width="260" height="240" viewBox="0 0 1753 1618">
<defs>
<radialGradient id="hl" cx="0.4" cy="0.35" r="0.8"><stop offset="0" stop-color="#2b3a49"/><stop offset="0.6" stop-color="#4a6075"/><stop offset="1" stop-color="#7f9db8"/></radialGradient>
<filter id="bds" x="-20%" y="-20%" width="150%" height="150%"><feGaussianBlur in="SourceAlpha" stdDeviation="30"/><feOffset dx="45" dy="50"/><feComponentTransfer><feFuncA type="linear" slope="0.75"/></feComponentTransfer><feMerge><feMergeNode/><feMergeNode in="SourceGraphic"/></feMerge></filter>
</defs>
<g filter="url(#bds)">
<path fill="#fff" fill-rule="evenodd" d="
M262,345 C262,250 320,190 410,178 L850,138 C930,132 985,170 1005,250 L1022,310 C1045,400 1062,560 1075,800 L1088,1010 C1090,1060 1080,1085 1066,1100 L1066,1190 C1066,1225 1045,1238 1000,1240 C960,1242 940,1225 938,1195 L936,1086 L470,1126 L472,1245 C472,1280 450,1292 410,1294 C365,1296 347,1280 345,1245 L336,1130 C300,1100 280,1060 272,1000 L256,700 C252,560 256,440 262,345 Z
M322,338 L945,280 C965,330 990,420 1005,520 C1018,600 1026,660 1030,722 L972,727 C955,660 905,618 842,622 C780,626 735,675 722,750 L316,786 Z
M420,217 L838,183 L845,246 L427,282 Z
M765,742 C775,700 800,675 835,668 L840,737 Z
M878,664 C915,668 945,690 960,728 L882,734 Z
"/>
<path fill="#fff" d="M196,440 C196,395 215,378 240,378 L262,378 L258,535 L235,537 C210,537 196,515 196,480 Z"/>
<ellipse cx="390" cy="992" rx="60" ry="76" fill="url(#hl)" transform="rotate(-5 390 992)"/>
<ellipse cx="984" cy="940" rx="60" ry="76" fill="url(#hl)" transform="rotate(-5 984 940)"/>
</g>
</svg>

<svg class="abs" style="left:1960px;top:0" width="260" height="100" viewBox="0 0 2296 883">
<rect x="135" y="150" width="1985" height="510" fill="#fff"/>
<g fill="none" stroke="#2aa7bf" stroke-width="46" stroke-linejoin="round">
<path d="M346,248 L346,470"/>
<path d="M622,268 L392,360 L622,458" stroke-width="42" stroke-linejoin="miter"/>
<path d="M918,447 L743,447 Q678,447 678,382 L678,336 Q678,271 743,271 L837,271 Q902,271 902,336 L902,360 L690,360"/>
<rect x="973" y="271" width="269" height="176" rx="65" ry="65"/>
</g>
<g fill="none" stroke="#6a655f" stroke-width="46">
<path d="M1313,248 L1313,392 Q1313,447 1368,447 L1502,447"/>
<path d="M1557,248 L1557,470"/>
<path d="M1908,271 L1690,271 Q1633,271 1633,315 Q1633,359 1690,359 L1845,359 Q1902,359 1902,403 Q1902,447 1845,447 L1618,447"/>
</g>
<text x="320" y="572" font-family="Liberation Sans, sans-serif" font-weight="bold" font-size="72" fill="#2aa7bf" textLength="1595" lengthAdjust="spacingAndGlyphs">COMPAGNIE DU BLANC ARGENT</text>
</svg>
<svg class="abs" style="left:2230px;top:0" width="250" height="180" viewBox="0 0 2247 1618">
<defs><filter id="lds" x="-10%" y="-10%" width="120%" height="120%"><feGaussianBlur in="SourceAlpha" stdDeviation="6"/><feOffset dx="3" dy="9"/><feComponentTransfer><feFuncA type="linear" slope="0.8"/></feComponentTransfer><feMerge><feMergeNode/><feMergeNode in="SourceGraphic"/></feMerge></filter></defs>
<rect x="190" y="133" width="1297" height="1275" rx="48" ry="48" fill="#fff" filter="url(#lds)"/>
<g fill="#7b7555">
<path d="M605,283 L655,316 L688,290 L722,302 L733,245 Q755,212 777,245 L788,302 L822,290 L855,316 L905,283 L856,395 L650,395 Z"/>
<path d="M938,480 C900,430 830,410 745,410 C610,412 505,490 505,600 C505,680 540,730 580,765 L560,760 C520,735 480,695 430,722 L458,738 L446,756 L482,760 L476,782 L516,774 C540,790 580,800 620,806 L600,815 C570,812 548,820 535,838 L566,845 L560,864 L596,866 L602,892 L632,868 L690,870 L780,872 C782,830 800,795 850,780 C900,770 950,790 966,812 L900,812 C860,806 835,815 815,836 L846,842 L838,862 L872,862 L880,892 L902,868 L1040,872 C1056,870 1058,850 1056,830 C1060,798 1095,790 1110,822 C1125,880 1080,945 1000,950 C920,952 860,915 810,868 C830,940 900,1020 1030,1022 C1160,1020 1250,920 1248,800 C1245,680 1150,580 1010,568 C930,565 850,590 780,612 C700,640 640,630 634,595 C632,555 680,535 740,535 L860,533 C900,530 930,515 938,480 Z"/>
<path d="M930,510 C960,440 1040,380 1113,312 C1142,380 1130,440 1075,476 C1030,500 975,498 930,510 Z"/>
</g>
<g font-family="Liberation Serif, serif" font-weight="bold" font-size="112" fill="#0f6b62">
<text x="250" y="1195" textLength="1160" lengthAdjust="spacing">ROMORANTIN</text>
<text x="345" y="1325" textLength="975" lengthAdjust="spacing">LANTHENAY</text>
</g>
</svg>

<div class="abs" style="left:50px;top:1369.5px;width:0;height:0"><div id="vtw" style="position:absolute;left:0;top:0;transform-origin:0 0;transform:rotate(-90deg);white-space:nowrap;line-height:1;font-size:38px;color:#3b3b3f"><span id="vt" style="display:inline-block;transform-origin:0 100%;transform:scaleX(0.8337);position:relative;top:-32.2px">Ville de Romorantin-Lanthenay - www.romorantin.com - 2026</span></div></div>
<div class="abs" id="ftw" style="left:400.3px;top:1694.0px;white-space:nowrap;line-height:1;font-size:28.3px;font-weight:bold;color:#33363c;-webkit-text-stroke:0.45px #33363c"><span id="ft" style="display:inline-block;transform-origin:0 50%;transform:scaleX(0.9994)">Navettes gratuites financées par la Ville de Romorantin-Lanthenay - CCRM41 - 3F Centre-Val de Loire - Loir &amp; Cher Logement<span style="font-weight:normal">.</span></span></div>

</body></html>
